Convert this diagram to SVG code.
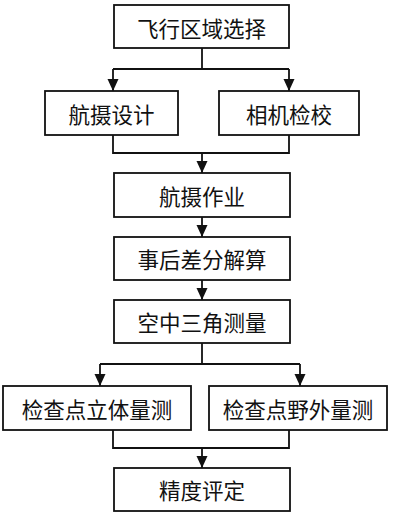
<svg xmlns="http://www.w3.org/2000/svg" width="400" height="521" viewBox="0 0 400 521">
<style>
.box{fill:#fff;stroke:#111;stroke-width:1.8}
.lbl{font-family:"Noto Sans CJK SC","Noto Sans",sans-serif;font-size:21.5px;fill:#111;text-anchor:middle;dominant-baseline:central}
.con{fill:none;stroke:#111;stroke-width:1.8}
</style>
<defs>
<marker id="arr" markerUnits="userSpaceOnUse" markerWidth="12" markerHeight="12" viewBox="0 0 12 12" refX="12" refY="6" orient="auto">
<path d="M0,0.5 L12,6 L0,11.5 Z" fill="#111"/>
</marker>
</defs>
<rect width="400" height="521" fill="#fff"/>
<g id="connectors">
<path class="con" d="M202,48 V69"/>
<path class="con" d="M113,69 H289"/>
<path class="con" d="M113,69 V91" marker-end="url(#arr)"/>
<path class="con" d="M289,69 V91" marker-end="url(#arr)"/>
<path class="con" d="M113,135 V153 H289 V135"/>
<path class="con" d="M202,153 V173" marker-end="url(#arr)"/>
<path class="con" d="M202,217 V237" marker-end="url(#arr)"/>
<path class="con" d="M202,280 V300" marker-end="url(#arr)"/>
<path class="con" d="M202,343 V364"/>
<path class="con" d="M100,364 H300"/>
<path class="con" d="M100,364 V386" marker-end="url(#arr)"/>
<path class="con" d="M300,364 V386" marker-end="url(#arr)"/>
<path class="con" d="M113,430 V448 H289 V430"/>
<path class="con" d="M202,448 V468" marker-end="url(#arr)"/>
</g>
<g id="n1"><rect class="box" x="114" y="5" width="175" height="43"/><text class="lbl" x="201.5" y="27">飞行区域选择</text></g>
<g id="n2"><rect class="box" x="45" y="91" width="133" height="44"/><text class="lbl" x="111.5" y="113">航摄设计</text></g>
<g id="n3"><rect class="box" x="219" y="91" width="140" height="44"/><text class="lbl" x="289" y="113">相机检校</text></g>
<g id="n4"><rect class="box" x="114" y="173" width="176" height="44"/><text class="lbl" x="202" y="195">航摄作业</text></g>
<g id="n5"><rect class="box" x="114" y="237" width="176" height="43"/><text class="lbl" x="202" y="258.5">事后差分解算</text></g>
<g id="n6"><rect class="box" x="114" y="300" width="176" height="43"/><text class="lbl" x="202" y="321.5">空中三角测量</text></g>
<g id="n7"><rect class="box" x="3" y="386" width="188" height="44"/><text class="lbl" x="97" y="408">检查点立体量测</text></g>
<g id="n8"><rect class="box" x="209" y="386" width="178" height="44"/><text class="lbl" x="298" y="408">检查点野外量测</text></g>
<g id="n9"><rect class="box" x="114" y="468" width="176" height="43"/><text class="lbl" x="202" y="489.5">精度评定</text></g>
</svg>
